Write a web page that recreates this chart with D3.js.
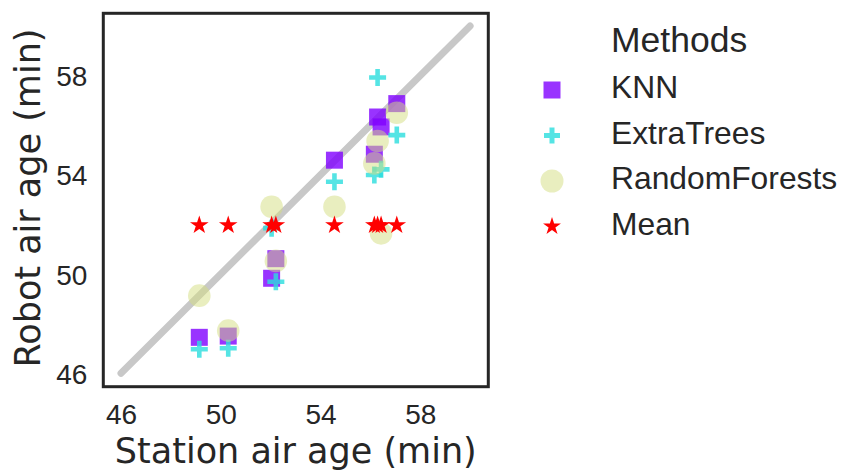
<!DOCTYPE html>
<html>
<head>
<meta charset="utf-8">
<script src="https://cdn.jsdelivr.net/npm/d3@7"></script>
<style>
  html, body { margin: 0; padding: 0; background: #fff; }
  svg { display: block; }
</style>
</head>
<body>
<svg id="chart" width="841" height="471"></svg>
<script>
// ---- data ----
const methods = ["KNN", "ExtraTrees", "RandomForests", "Mean"];
const stationAge = [49.14, 50.30, 52.04, 52.21, 54.56, 56.16, 56.29, 56.43, 57.06];
const knnAge     = [47.45, 47.50, 49.83, 50.62, 54.59, 54.83, 56.33, 55.93, 56.87];
const etAge      = [46.97, 47.01, 51.85, 49.69, 53.72, 53.99, 57.92, 54.22, 55.60];
const rfAge      = [49.13, 47.72, 52.71, 50.53, 52.71, 54.46, 55.36, 51.64, 56.50];
const meanAge    = [51.97, 51.97, 51.97, 51.97, 51.97, 51.97, 51.97, 51.97, 51.97];
const tickValues = [46, 50, 54, 58];
const identityLine = [46, 60];

const series = [knnAge, etAge, rfAge, meanAge];

// ---- layout ----
const svg = d3.select("#chart");
const plotL = 103.3, plotR = 488.3, plotT = 13.3, plotB = 386.7;
const x = d3.scaleLinear().domain([45.29, 60.73]).range([plotL, plotR]);
const y = d3.scaleLinear().domain([45.46, 60.51]).range([plotB, plotT]);

const textColor = "#262626";
const tickFont = "'Liberation Sans', Arial, sans-serif";
const labelFont = "'DejaVu Sans', sans-serif";

// marker styles
const styles = {
  KNN:           { color: "#8000ff", opacity: 0.8 },
  ExtraTrees:    { color: "#2adddd", opacity: 0.8 },
  RandomForests: { color: "#d4dd80", opacity: 0.5 },
  Mean:          { color: "#ff0000", opacity: 1.0 }
};

function starPath(R) {
  const r = R * 0.381966;
  const pts = [];
  for (let i = 0; i < 10; i++) {
    const rad = i % 2 === 0 ? R : r;
    const a = -Math.PI / 2 + i * Math.PI / 5;
    pts.push([rad * Math.cos(a), rad * Math.sin(a)]);
  }
  return "M" + pts.map(p => p[0].toFixed(2) + "," + p[1].toFixed(2)).join("L") + "Z";
}

function drawMarker(g, method, cx, cy, legend) {
  const st = styles[method];
  if (method === "KNN") {
    const s = 17;
    g.append("rect").attr("x", cx - s / 2).attr("y", cy - s / 2)
      .attr("width", s).attr("height", s)
      .attr("fill", st.color).attr("opacity", st.opacity);
  } else if (method === "ExtraTrees") {
    const h = legend ? 8 : 8.5;
    g.append("path")
      .attr("d", `M${cx - h},${cy}H${cx + h}M${cx},${cy - h}V${cy + h}`)
      .attr("stroke", st.color).attr("stroke-width", legend ? 5 : 4.6)
      .attr("fill", "none").attr("opacity", st.opacity);
  } else if (method === "RandomForests") {
    g.append("circle").attr("cx", cx).attr("cy", cy).attr("r", legend ? 11.5 : 11.3)
      .attr("fill", st.color).attr("opacity", st.opacity);
  } else {
    g.append("path").attr("d", starPath(legend ? 9.4 : 9.8))
      .attr("transform", `translate(${cx},${cy})`)
      .attr("fill", st.color).attr("opacity", st.opacity);
  }
}

// identity line
svg.append("line")
  .attr("x1", x(identityLine[0])).attr("y1", y(identityLine[0]))
  .attr("x2", x(identityLine[1])).attr("y2", y(identityLine[1]))
  .attr("stroke", "#c8c8c8").attr("stroke-width", 7)
  .attr("stroke-linecap", "round");

// points
const ptsG = svg.append("g");
methods.forEach((m, mi) => {
  const gm = ptsG.append("g").attr("class", "series-" + m);
  series[mi].forEach((v, i) => drawMarker(gm, m, x(stationAge[i]), y(v), false));
});

// frame
svg.append("rect")
  .attr("x", plotL).attr("y", plotT)
  .attr("width", plotR - plotL).attr("height", plotB - plotT)
  .attr("fill", "none").attr("stroke", textColor).attr("stroke-width", 3);

// axes
const xAxis = svg.append("g").attr("transform", `translate(0,${plotB})`)
  .call(d3.axisBottom(x).tickValues(tickValues).tickSize(0).tickFormat(d3.format("d")));
xAxis.select(".domain").remove();
xAxis.selectAll("text")
  .attr("y", 37.5).attr("dy", 0)
  .attr("fill", textColor).style("font-family", tickFont).style("font-size", "28px");

const yAxis = svg.append("g").attr("transform", `translate(${plotL},0)`)
  .call(d3.axisLeft(y).tickValues(tickValues).tickSize(0).tickFormat(d3.format("d")));
yAxis.select(".domain").remove();
yAxis.selectAll("text")
  .attr("x", -16).attr("dy", "0.36em")
  .attr("fill", textColor).style("font-family", tickFont).style("font-size", "28px");

// axis labels
svg.append("text")
  .attr("x", (plotL + plotR) / 2).attr("y", 463)
  .attr("text-anchor", "middle")
  .attr("fill", textColor).style("font-family", labelFont).style("font-size", "35px")
  .text("Station air age (min)");

svg.append("text")
  .attr("transform", `translate(40,${(plotT + plotB) / 2 - 2}) rotate(-90)`)
  .attr("text-anchor", "middle")
  .attr("fill", textColor).style("font-family", labelFont).style("font-size", "35px")
  .text("Robot air age (min)");

// legend
const legendG = svg.append("g");
legendG.append("text")
  .attr("x", 611).attr("y", 52.3)
  .attr("fill", textColor).style("font-family", tickFont).style("font-size", "35.5px")
  .text("Methods");
const legendBaselines = [98, 143.5, 189, 234.5];
methods.forEach((m, i) => {
  drawMarker(legendG, m, 552, legendBaselines[i] - 8, true);
  legendG.append("text")
    .attr("x", 611).attr("y", legendBaselines[i])
    .attr("fill", textColor).style("font-family", tickFont).style("font-size", "31.8px")
    .text(m);
});
</script>
</body>
</html>
